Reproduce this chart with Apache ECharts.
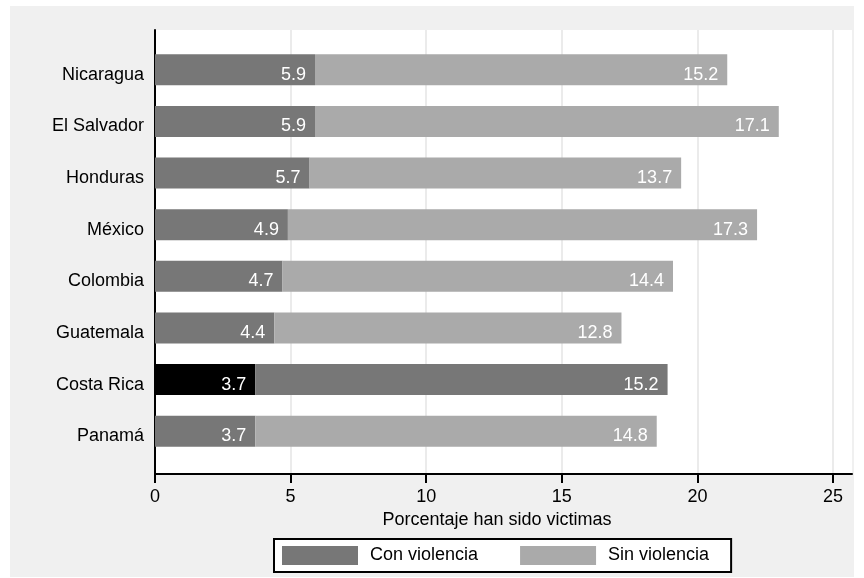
<!DOCTYPE html>
<html>
<head>
<meta charset="utf-8">
<script src="https://cdn.jsdelivr.net/npm/echarts@6/dist/echarts.min.js"></script>
<style>
  html, body { margin: 0; padding: 0; background: #ffffff; }
  #chart { width: 864px; height: 578px; }
</style>
</head>
<body>
<div id="chart"></div>
<script>
// ---- data ----
const countries = ['Nicaragua', 'El Salvador', 'Honduras', 'México', 'Colombia', 'Guatemala', 'Costa Rica', 'Panamá'];
const conViolencia = [5.9, 5.9, 5.7, 4.9, 4.7, 4.4, 3.7, 3.7];
const sinViolencia = [15.2, 17.1, 13.7, 17.3, 14.4, 12.8, 15.2, 14.8];
const seriesNames = ['Con violencia', 'Sin violencia'];
const xTicks = [0, 5, 10, 15, 20, 25];
const highlighted = 'Costa Rica';

// ---- styles ----
const FONT = "'Liberation Sans', Arial, Helvetica, sans-serif";
const C_DARK = '#777777';
const C_LIGHT = '#aaaaaa';
const C_HL1 = '#000000';
const C_HL2 = '#777777';
const XMAX = 25.7;

const chart = echarts.init(document.getElementById('chart'), null, { renderer: 'canvas' });

const d1 = conViolencia.map((v, i) => countries[i] === highlighted ? { value: v, itemStyle: { color: C_HL1 } } : v);
const d2 = sinViolencia.map((v, i) => countries[i] === highlighted ? { value: v, itemStyle: { color: C_HL2 } } : v);

const barLabel = {
  show: true,
  position: 'insideRight',
  distance: 9,
  offset: [0, 5],
  color: '#ffffff',
  fontSize: 18,
  fontFamily: FONT,
  formatter: p => p.value.toFixed(1)
};

const option = {
  backgroundColor: '#ffffff',
  animation: false,
  textStyle: { fontFamily: FONT },
  graphic: {
    elements: [{
      type: 'rect', z: -100, silent: true,
      shape: { x: 10, y: 6, width: 844, height: 571 },
      style: { fill: '#f0f0f0' }
    }]
  },
  grid: [
    { left: 155, right: 12, top: 30, bottom: 104, show: true, backgroundColor: '#ffffff', borderWidth: 0, containLabel: false },
    { left: 155, right: 12, top: 44, bottom: 121, containLabel: false }
  ],
  xAxis: [
    {
      gridIndex: 0, type: 'value', min: 0, max: XMAX, interval: 5,
      name: 'Porcentaje han sido victimas', nameLocation: 'middle', nameGap: 33,
      nameTextStyle: { fontSize: 18, color: '#000', fontFamily: FONT, padding: [0, 13, 0, 0] },
      axisLine: { show: true, onZero: false, lineStyle: { color: '#000', width: 2 } },
      axisTick: { show: true, length: 9, lineStyle: { color: '#000', width: 2 }, customValues: xTicks },
      axisLabel: { show: true, fontSize: 18, color: '#000', margin: 14, fontFamily: FONT, customValues: xTicks },
      splitLine: { show: true, lineStyle: { color: '#ebebeb', width: 2 } }
    },
    {
      gridIndex: 1, type: 'value', min: 0, max: XMAX,
      show: false,
      splitLine: { show: false }
    }
  ],
  yAxis: [
    {
      gridIndex: 0, type: 'value', min: 0, max: 1,
      axisLine: { show: true, lineStyle: { color: '#000', width: 2 } },
      axisTick: { show: false }, axisLabel: { show: false }, splitLine: { show: false }
    },
    {
      gridIndex: 1, type: 'category', data: countries, inverse: true,
      axisLine: { show: false }, axisTick: { show: false },
      axisLabel: {
        margin: 11,
        formatter: v => '{a|' + v + '}',
        rich: { a: { fontSize: 18, color: '#000', fontFamily: FONT, padding: [10, 0, 0, 0] } }
      },
      splitLine: { show: false }
    }
  ],
  legend: {
    left: 274, top: 539,
    orient: 'horizontal',
    data: seriesNames,
    icon: 'rect',
    itemWidth: 76, itemHeight: 19, itemGap: 42,
    backgroundColor: '#ffffff',
    borderColor: '#000000', borderWidth: 2, borderRadius: 0,
    padding: [7, 22, 7, 8],
    textStyle: { fontSize: 18, color: '#000', fontFamily: FONT, padding: [0, 0, 0, 7] }
  },
  series: [
    {
      name: seriesNames[0], type: 'bar', stack: 'total',
      xAxisIndex: 1, yAxisIndex: 1,
      barWidth: 31,
      itemStyle: { color: C_DARK },
      label: barLabel,
      data: d1
    },
    {
      name: seriesNames[1], type: 'bar', stack: 'total',
      xAxisIndex: 1, yAxisIndex: 1,
      barWidth: 31,
      itemStyle: { color: C_LIGHT },
      label: barLabel,
      data: d2
    }
  ]
};

chart.setOption(option);
</script>
</body>
</html>
